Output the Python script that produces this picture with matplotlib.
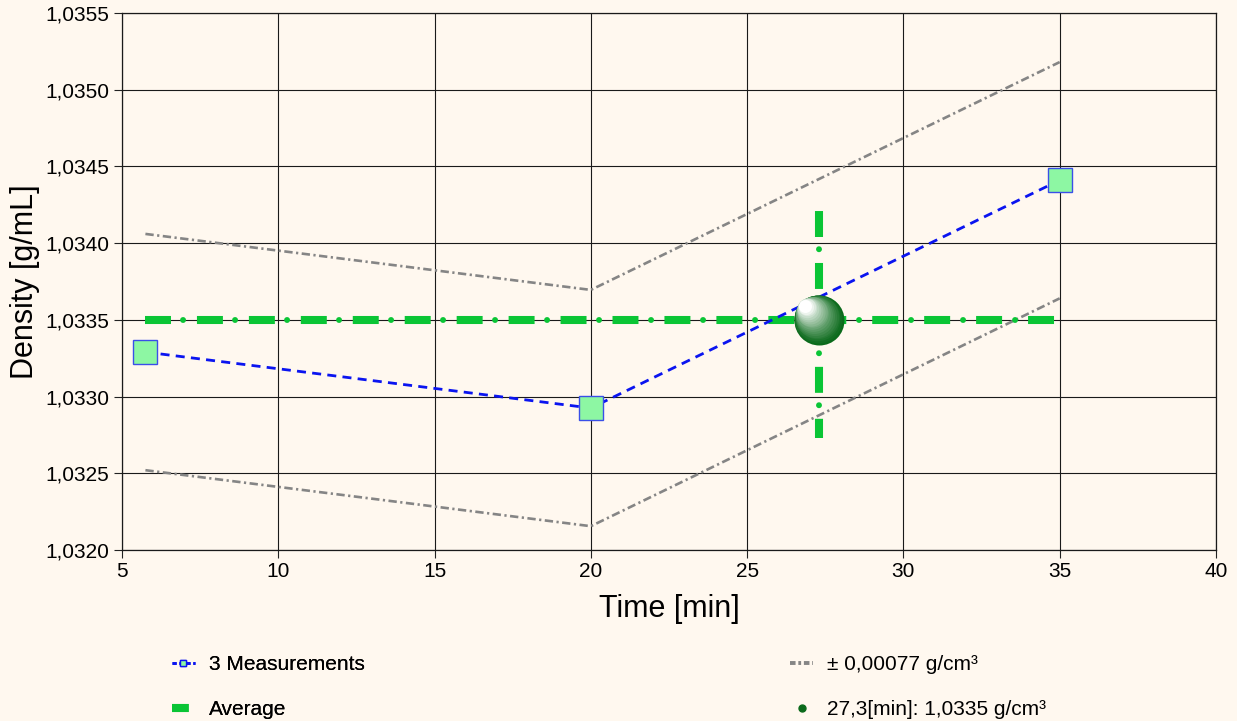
import matplotlib
matplotlib.use("Agg")
import matplotlib.pyplot as plt
from matplotlib.lines import Line2D
from matplotlib import font_manager
import matplotlib.transforms as mtransforms
import numpy as np

# ---------------- data ----------------
meas_time = [5.75, 20.0, 35.0]
meas_density = [1.03329, 1.032925, 1.03441]
tolerance = 0.00077
avg_density = 1.0335
avg_time = 27.3
x_ticks = [5, 10, 15, 20, 25, 30, 35, 40]
x_tick_labels = ["5", "10", "15", "20", "25", "30", "35", "40"]
y_ticks = [1.0320, 1.0325, 1.0330, 1.0335, 1.0340, 1.0345, 1.0350, 1.0355]
y_tick_labels = ["1,0320", "1,0325", "1,0330", "1,0335", "1,0340", "1,0345", "1,0350", "1,0355"]
legend_labels = ["3 Measurements", "Average", "± 0,00077 g/cm³", "27,3[min]: 1,0335 g/cm³"]

plt.rcParams['lines.scale_dashes'] = False
names = {f.name for f in font_manager.fontManager.ttflist}
base_font = 'Liberation Sans' if 'Liberation Sans' in names else 'DejaVu Sans'
plt.rcParams['font.family'] = [base_font, 'DejaVu Sans']

BG = '#FFF8EF'
BLUE = '#0A14F0'
GRAY = '#858585'
GREEN = '#0AC535'
DKGREEN = '#0B6A1B'

fig = plt.figure(figsize=(12.37, 7.21), dpi=100, facecolor=BG)
ax = fig.add_axes([0.0986, 0.2372, 0.8844, 0.7448])
ax.set_facecolor(BG)
ax.set_xlim(5, 40)
ax.set_ylim(1.0320, 1.0355)

ax.set_xticks(x_ticks)
ax.set_xticklabels(x_tick_labels, fontsize=15)
ax.set_yticks(y_ticks)
ax.set_yticklabels(y_tick_labels, fontsize=15)
ax.tick_params(direction='out', length=6, width=0.8, color='#222222', pad=3)
ax.grid(True, color='#1a1a1a', linewidth=0.8)
ax.set_axisbelow(True)
for s in ax.spines.values():
    s.set_color('#1a1a1a')
    s.set_linewidth(0.9)

ax.set_xlabel("Time [min]", fontsize=22, labelpad=9)
ax.set_ylabel("Density [g/mL]", fontsize=22, labelpad=4)

# tolerance band
t = np.array(meas_time)
d = np.array(meas_density)
gray_dash = (0, (6, 2.5, 1.6, 2.5))
ax.plot(t, d + tolerance, color=GRAY, lw=1.9, linestyle=gray_dash, zorder=3)
ax.plot(t, d - tolerance, color=GRAY, lw=1.9, linestyle=gray_dash, zorder=3)

# average line (dash-dot, thick)
avg_x = [meas_time[0], meas_time[-1]]
avg_y = [avg_density, avg_density]
ax.plot(avg_x, avg_y, color=GREEN, lw=5.8, dash_capstyle='butt',
        linestyle=(0, (18.7, 18.7)), zorder=4)
ax.plot(avg_x, avg_y, color=GREEN, lw=4.3, dash_capstyle='round',
        linestyle=(-27.4, (0.01, 37.43)), zorder=4)

# vertical line at average time
vx = [avg_time, avg_time]
vy = [avg_density + tolerance, avg_density - tolerance]
ax.plot(vx, vy, color=GREEN, lw=5.8, dash_capstyle='butt',
        linestyle=(-6.5, (18.7, 18.7)), zorder=4)
ax.plot(vx, vy, color=GREEN, lw=4.3, dash_capstyle='round',
        linestyle=(-34.0, (0.01, 37.43)), zorder=4)

# measurements
ax.plot(meas_time, meas_density, color=BLUE, lw=2.0, linestyle=(0, (6.5, 4.5)),
        marker='s', markersize=17, markerfacecolor='#8DF7A3',
        markeredgecolor='#3A4FE8', markeredgewidth=1.0, zorder=5)

# sphere marker (shaded)
n = 18
c0 = np.array(matplotlib.colors.to_rgb(DKGREEN))
for i in range(n):
    f = i / (n - 1)
    r_px = 25 - 18.5 * f
    off_px = 14.0 * f
    w = f ** 1.25
    col = c0 * (1 - w) + np.array([1, 1, 1]) * w
    tr = ax.transData + mtransforms.ScaledTranslation(-off_px / 100, off_px / 100, fig.dpi_scale_trans)
    ax.plot([avg_time], [avg_density], marker='o', markersize=2 * r_px * 0.72,
            color=col, markeredgewidth=0, transform=tr, zorder=6 + i * 0.01)

# legend
h_meas = Line2D([], [], color=BLUE, lw=2.0, linestyle=(0, (3, 2)), marker='s', markersize=4,
                markerfacecolor='#8DF7A3', markeredgecolor=BLUE)
h_avg = Line2D([], [], color=GREEN, lw=5.8, linestyle=(0, (12, 20)), dash_capstyle='butt')
h_tol = Line2D([], [], color=GRAY, lw=2.8, linestyle=(0, (4, 2, 2, 2)))
h_pt = Line2D([], [], color=DKGREEN, lw=0, marker='o', markersize=5)

leg_font = {'size': 15}
common = dict(loc='upper left', frameon=False, prop=leg_font, handlelength=1.1,
              labelspacing=1.22, handletextpad=0.67, borderaxespad=0, borderpad=0)
leg1 = fig.legend([h_meas, h_avg], legend_labels[:2], bbox_to_anchor=(0.139, 0.091), **common)
fig.legend([h_tol, h_pt], legend_labels[2:], bbox_to_anchor=(0.639, 0.091), **common)
fig.add_artist(leg1)

fig.savefig("out.png", dpi=100, facecolor=BG)
